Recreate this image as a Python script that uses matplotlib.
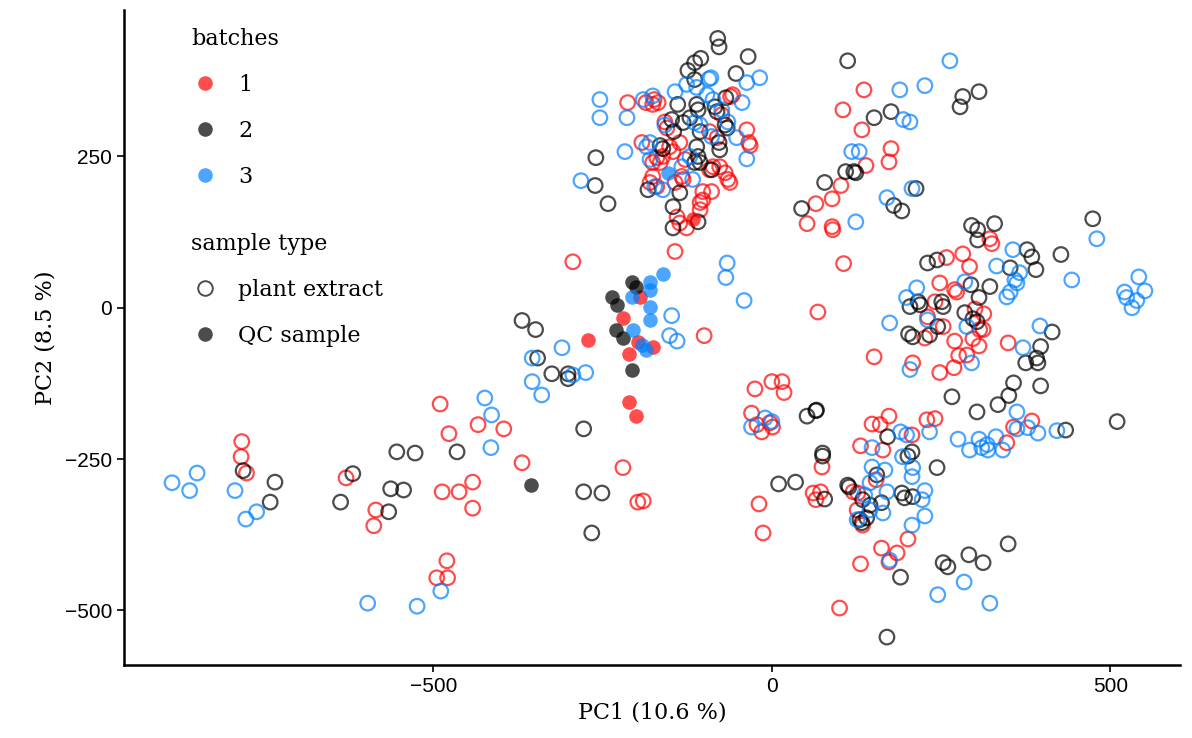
import numpy as np
import matplotlib
matplotlib.use('Agg')
import matplotlib.pyplot as plt
from matplotlib.lines import Line2D

# batch 1 (red), plant extract
red_x = [-213, -186, -176, -192, -176, -176,
         -58, -61, -174, -168, -74, -158, -155, -92, -37, -34, -32, -81, -151, -146, -136,
         -170, -165, -161, -128, -92, -87, -77, -69, -65, -62, -133, -131, -143, -180, -170,
         -102, -89, -106, -102, -106, -140, -136, -126,
         136, 105, 133, 176, 173, 139, 102, 89, 65, 52, 89, 90,
         322, 325, 258, 282, 292, 248, 270, 273, 241, 300, 313, 230, 226, 253, 307, 312,
         270, 297, 306, 349, 276, 288, 248, 269, 208, 384, 357, 229, 241, 347, 207,
         -783, -294, -490, -477, -434, -396,
         -143, 106, 68, -100, 151, -25, 0, 15, 18, -30, -22, -15, -3, 1, 148, 160, 173, 131, 164,
         -784, -776, -629, -585, -588,
         -369, -487, -462, -442, -442, -220, -198, -190, -480, -495, -479,
         74, 61, 72, 65, -19, -13, 120, 127, 126, 134, 154, 201, 162, 185, 173, 131, 100]
red_y = [339, 339, 336, 273, 240, 217,
         352, 349, 344, 339, 319, 307, 297, 291, 294, 273, 268, 281, 266, 258, 273,
         248, 240, 250, 245, 228, 233, 233, 223, 212, 207, 217, 212, 207, 207, 200,
         192, 192, 174, 178, 162, 150, 140, 132,
         360, 327, 294, 263, 241, 235, 202, 180, 172, 139, 134, 129,
         114, 106, 83, 89, 68, 41, 30, 26, 10, -2, -10, -15, -50, -31, -36, -36,
         -55, -51, -63, -58, -79, -78, -107, -99, -91, -187, -197, -185, -183, -223, -210,
         -221, 76, -159, -208, -193, -200,
         93, 73, -7, -46, -81, -134, -122, -122, -140, -174, -193, -205, -190, -197, -192, -193, -179, -228, -235,
         -246, -273, -281, -334, -360,
         -256, -304, -304, -288, -331, -264, -321, -319, -418, -446, -446,
         -263, -306, -304, -317, -324, -372, -304, -306, -334, -359, -284, -382, -397, -405, -420, -423, -496]

# batch 2 (black), plant extract
black_x = [-260, -261, -242, -183,
           -80, -78, -35, -105, -114, -124, -53, -114, -68, -139, -111, -109, -84, -81, -69, -66,
           -148, -131, -121, -106, -145, -78, -77, -111, -109, -165, -161, -114, -106, -89, -136,
           -146, -109, -146,
           112, 151, 176, 109, 121, 124, 78, 180, 192, 44,
           282, 278, 306, 213, 474, 295, 304, 329,
           377, 384, 427, 352, 390, 244, 230, 304, 294, 322, 216, 219, 253, 251, 306, 204, 285,
           297, 303, 208, 233, 245, 397, 414, 391, 375, 393, 357, 397, 266, 350, 334, 303, 434, 510,
           202, 52, 65, 66, 171, 75,
           -369, -349, -346, -325, -301, -301, -278, -465, -554, -527,
           -781, -734, -741, -619, -637, -563, -566,
           -544, -278, -251, -266,
           75, 10, 35, 78, 112, 114, 134, 130, 140, 133, 145, 162, 155, 192, 196, 201, 190, 170,
           207, 244, 208, 349, 291, 312, 253, 260]
black_y = [248, 202, 172, 195,
           445, 431, 415, 412, 405, 392, 387, 377, 347, 336, 336, 327, 332, 324, 302, 297,
           311, 306, 314, 291, 291, 273, 261, 266, 250, 268, 263, 240, 240, 228, 190,
           167, 142, 132,
           408, 314, 324, 225, 225, 223, 207, 169, 160, 164,
           349, 332, 357, 197, 147, 136, 129, 139,
           96, 84, 88, 66, 63, 79, 74, 112, 38, 35, 10, 5, 2, 10, 17, 2, -8,
           -18, -23, -48, -45, -31, -64, -40, -83, -91, -91, -124, -129, -147, -145, -160, -172, -202, -188,
           -43, -179, -170, -169, -213, -240,
           -21, -36, -83, -109, -109, -117, -200, -238, -238, -240,
           -269, -288, -321, -274, -321, -299, -337,
           -301, -304, -306, -372,
           -245, -291, -288, -316, -293, -296, -317, -350, -347, -355, -326, -322, -276, -306, -314, -245, -445, -544,
           -238, -264, -312, -390, -408, -421, -421, -428]

# batch 3 (blue), plant extract
blue_x = [-254, -254, -214, -190, -176, -217, -185, -180, -282, -173,
          -93, -90, -18, -37, -126, -143, -111, -96, -44, -87, -74, -65, -114, -106, -158,
          -52, -89, -180, -37, -121, -133, -117, -161,
          189, 194, 204, 118, 129, 170, 207, 124,
          263, 226,
          480, 356, 332, 366, 359, 362, 443, 352, 347, 542, 551, 521, 524, 539, 532, 214, 285,
          230, 288, 396, 371, 295, 362, 362, 378, 393, 421, 233, 275, 306, 318, 310, 331, 341, 292,
          -66, -68, -41, -148, -151, -140, 174, 199, 204, -30, -10, 0, 190, 199, 148,
          -310, -354, -294, -275, -354, -340, -424, -414, -415,
          -886, -860, -849, -793, -761, -777, -597,
          -489, -524,
          126, 137, 145, 148, 167, 170, 164, 145, 193, 208, 207, 207, 174,
          226, 222, 226, 284, 245, 322, 319]
blue_y = [344, 314, 314, 344, 350, 258, 266, 245, 210, 200,
          378, 380, 380, 372, 369, 357, 364, 352, 339, 344, 327, 307, 306, 302, 302,
          281, 283, 273, 246, 250, 233, 212, 195,
          360, 311, 307, 258, 258, 182, 197, 142,
          408, 367,
          114, 96, 69, 58, 46, 41, 46, 26, 18, 51, 28, 26, 17, 12, 0, 33, 43,
          -20, -31, -30, -66, -91, -172, -200, -198, -207, -203, -205, -217, -217, -226, -231, -213, -235, -235,
          74, 50, 12, -13, -46, -55, -25, 17, -102, -197, -182, -188, -205, -210, -231,
          -66, -83, -111, -107, -122, -144, -149, -177, -231,
          -289, -302, -273, -302, -337, -349, -488,
          -468, -493,
          -350, -309, -334, -263, -268, -304, -339, -289, -246, -264, -279, -359, -417,
          -302, -317, -344, -453, -474, -488, -235]

# QC samples (filled)
qc_red_x = [-272, -195, -220, -198, -176, -211, -211, -201, -117]
qc_red_y = [-53, 17, -17, -56, -64, -76, -155, -178, 147]
qc_black_x = [-236, -229, -207, -201, -230, -220, -207, -356]
qc_black_y = [18, 5, 43, 35, -36, -50, -102, -293]
qc_blue_x = [-180, -161, -207, -180, -180, -180, -205, -192, -186, -154]
qc_blue_y = [43, 56, 17, 30, 2, -20, -36, -61, -69, 223]

colors = {'1': '#ff0000', '2': '#000000', '3': '#0080ff'}
alpha = 0.7

fig = plt.figure(figsize=(11.92, 7.38), dpi=100)
ax = fig.add_axes([0.104, 0.099, 0.886, 0.8875])

open_kw = dict(s=110, facecolors='none', linewidths=1.6, alpha=alpha)
ax.scatter(red_x, red_y, edgecolors=colors['1'], **open_kw)
ax.scatter(black_x, black_y, edgecolors=colors['2'], **open_kw)
ax.scatter(blue_x, blue_y, edgecolors=colors['3'], **open_kw)

fill_kw = dict(s=110, linewidths=0, alpha=alpha)
ax.scatter(qc_red_x, qc_red_y, color=colors['1'], **fill_kw)
ax.scatter(qc_black_x, qc_black_y, color=colors['2'], **fill_kw)
ax.scatter(qc_blue_x, qc_blue_y, color=colors['3'], **fill_kw)

ax.set_xlim(-957, 603)
ax.set_ylim(-590, 492)
ax.set_xticks([-500, 0, 500])
ax.set_yticks([-500, -250, 0, 250])
for spi in ['top', 'right']:
    ax.spines[spi].set_visible(False)
for spi in ['left', 'bottom']:
    ax.spines[spi].set_linewidth(1.8)
ax.tick_params(axis='both', width=1.2, length=5, labelsize=15, colors='black')
for lab in ax.get_xticklabels() + ax.get_yticklabels():
    lab.set_family('Liberation Sans')

serif = 'DejaVu Serif'
ax.set_xlabel('PC1 (10.6 %)', fontsize=16, family=serif, labelpad=4)
ax.set_ylabel('PC2 (8.5 %)', fontsize=16, family=serif, labelpad=6)

leg_kw = dict(loc='upper left', frameon=False, alignment='left',
              prop={'family': serif, 'size': 16},
              title_fontproperties={'family': serif, 'size': 16},
              labelspacing=1.08, handletextpad=0.9, handlelength=1.2)
mk = dict(marker='o', linestyle='none', markersize=10.5, alpha=alpha)
h_batch = [Line2D([], [], color=colors[k], markeredgewidth=0, **mk) for k in ['1', '2', '3']]
leg1 = ax.legend(h_batch, ['1', '2', '3'], title='batches',
                 bbox_to_anchor=(0.045, 1.003), **leg_kw)
ax.add_artist(leg1)
h_type = [Line2D([], [], color='#000000', markerfacecolor='none', markeredgewidth=1.4, **mk),
          Line2D([], [], color='#000000', markeredgewidth=0, **mk)]
ax.legend(h_type, ['plant extract', 'QC sample'], title='sample type',
          bbox_to_anchor=(0.045, 0.69), **leg_kw)

plt.savefig('out.png', dpi=100)
plt.close()
